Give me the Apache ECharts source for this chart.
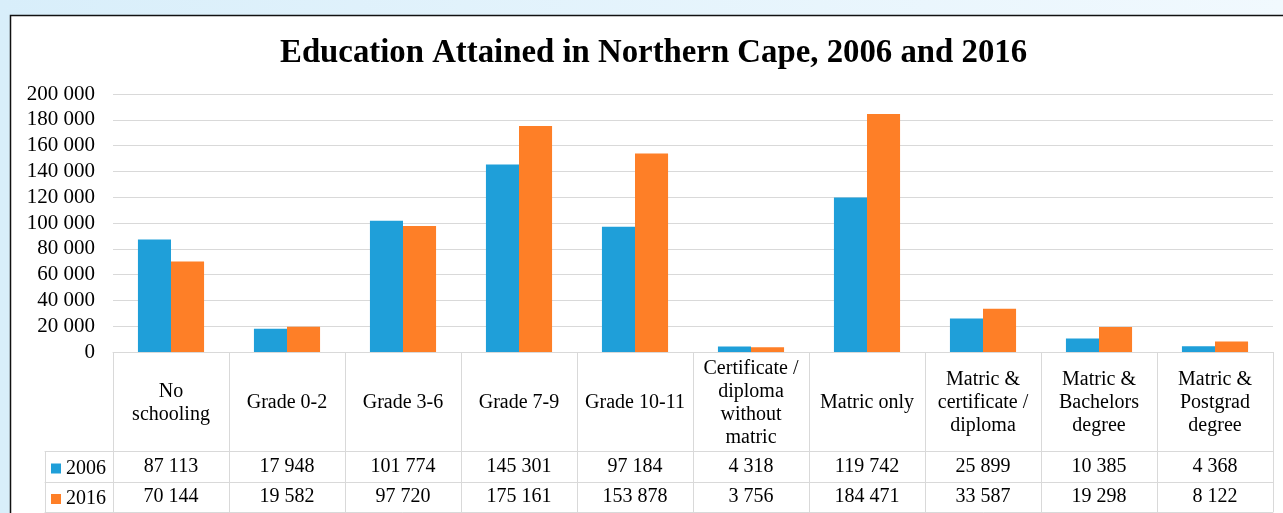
<!DOCTYPE html>
<html>
<head>
<meta charset="utf-8">
<script src="https://cdn.jsdelivr.net/npm/echarts@6/dist/echarts.min.js"></script>
<style>html,body{margin:0;padding:0;}#c{width:1283px;height:513px;}</style>
</head>
<body>
<div id="c"></div>
<script>
const titleText = 'Education Attained in Northern Cape, 2006 and 2016';
const categories = ['No\nschooling', 'Grade 0-2', 'Grade 3-6', 'Grade 7-9', 'Grade 10-11',
  'Certificate /\ndiploma\nwithout\nmatric', 'Matric only', 'Matric &\ncertificate /\ndiploma',
  'Matric &\nBachelors\ndegree', 'Matric &\nPostgrad\ndegree'];
const seriesNames = ['2006', '2016'];
const values2006 = [87113, 17948, 101774, 145301, 97184, 4318, 119742, 25899, 10385, 4368];
const values2016 = [70144, 19582, 97720, 175161, 153878, 3756, 184471, 33587, 19298, 8122];
const yMin = 0, yMax = 200000, yStep = 20000;

const fmt = v => String(v).replace(/\B(?=(\d{3})+(?!\d))/g, ' ');
const FONT = 'Liberation Serif';
const GRID_LINE = '#d9d9d9';
const BLUE = '#1f9fd9';
const ORANGE = '#fe7f27';

const chart = echarts.init(document.getElementById('c'), null, {renderer: 'canvas'});

const gridTop = 94, gridBottom = 161;

function rowAxis(gridIndex, data, offset, opts) {
  return Object.assign({
    type: 'category', gridIndex: gridIndex, data: data, position: 'bottom', offset: offset,
    axisLine: {show: true, onZero: false, lineStyle: {color: GRID_LINE, width: 1}},
    axisTick: {show: false}, axisLabel: {show: false}
  }, opts || {});
}

function legendFor(name, top) {
  return {
    data: [name], left: 51, top: top, orient: 'vertical', padding: 0,
    itemWidth: 10, itemHeight: 10, icon: 'rect', itemGap: 0,
    textStyle: {fontFamily: FONT, fontSize: 20, color: '#000'}
  };
}

const option = {
  backgroundColor: {
    type: 'linear', x: 0, y: 0, x2: 1, y2: 0,
    colorStops: [{offset: 0, color: '#d8eefa'}, {offset: 1, color: '#f1f9fe'}]
  },
  animation: false,
  graphic: [{
    type: 'rect', z: -10, silent: true,
    shape: {x: 10.5, y: 15.5, width: 1300, height: 520},
    style: {fill: '#ffffff', stroke: '#111111', lineWidth: 1.5}
  }],
  title: {
    text: titleText,
    left: 275, top: 32,
    textStyle: {fontFamily: FONT, fontWeight: 'bold', fontSize: 32.8, color: '#000'}
  },
  legend: [legendFor(seriesNames[0], 458.5), legendFor(seriesNames[1], 489)],
  grid: [
    {left: 113, right: 10, top: gridTop, bottom: gridBottom},
    {left: 45, width: 68, top: gridTop, bottom: gridBottom}
  ],
  xAxis: [
    rowAxis(0, categories, 0, {
      axisTick: {show: true, length: 160, lineStyle: {color: GRID_LINE, width: 1}},
      axisLabel: {fontFamily: FONT, fontSize: 20, color: '#000', lineHeight: 23,
        margin: 51, verticalAlign: 'middle', align: 'center', interval: 0}
    }),
    rowAxis(0, values2006.map(fmt), 99, {
      axisLabel: {fontFamily: FONT, fontSize: 20, color: '#000', margin: 16,
        verticalAlign: 'middle', interval: 0}
    }),
    rowAxis(0, values2016.map(fmt), 130, {
      axisLabel: {fontFamily: FONT, fontSize: 20, color: '#000', margin: 15,
        verticalAlign: 'middle', interval: 0}
    }),
    rowAxis(0, categories, 160),
    rowAxis(1, [''], 99, {
      axisTick: {show: true, length: 61, lineStyle: {color: GRID_LINE, width: 1}}
    }),
    rowAxis(1, [''], 130),
    rowAxis(1, [''], 160)
  ],
  yAxis: [
    {
      type: 'value', gridIndex: 0, min: yMin, max: yMax, interval: yStep,
      axisLine: {show: false}, axisTick: {show: false},
      splitLine: {show: true, lineStyle: {color: GRID_LINE, width: 1}},
      axisLabel: {fontFamily: FONT, fontSize: 21, color: '#000', margin: 18, formatter: v => fmt(v)}
    },
    {type: 'value', gridIndex: 1, show: false, min: 0, max: 1}
  ],
  series: [
    {
      name: seriesNames[0], type: 'bar', xAxisIndex: 0, yAxisIndex: 0, data: values2006,
      itemStyle: {color: BLUE}, barGap: '0%', barCategoryGap: '43%'
    },
    {
      name: seriesNames[1], type: 'bar', xAxisIndex: 0, yAxisIndex: 0, data: values2016,
      itemStyle: {color: ORANGE}, barGap: '0%', barCategoryGap: '43%'
    }
  ]
};
chart.setOption(option);
</script>
</body>
</html>
